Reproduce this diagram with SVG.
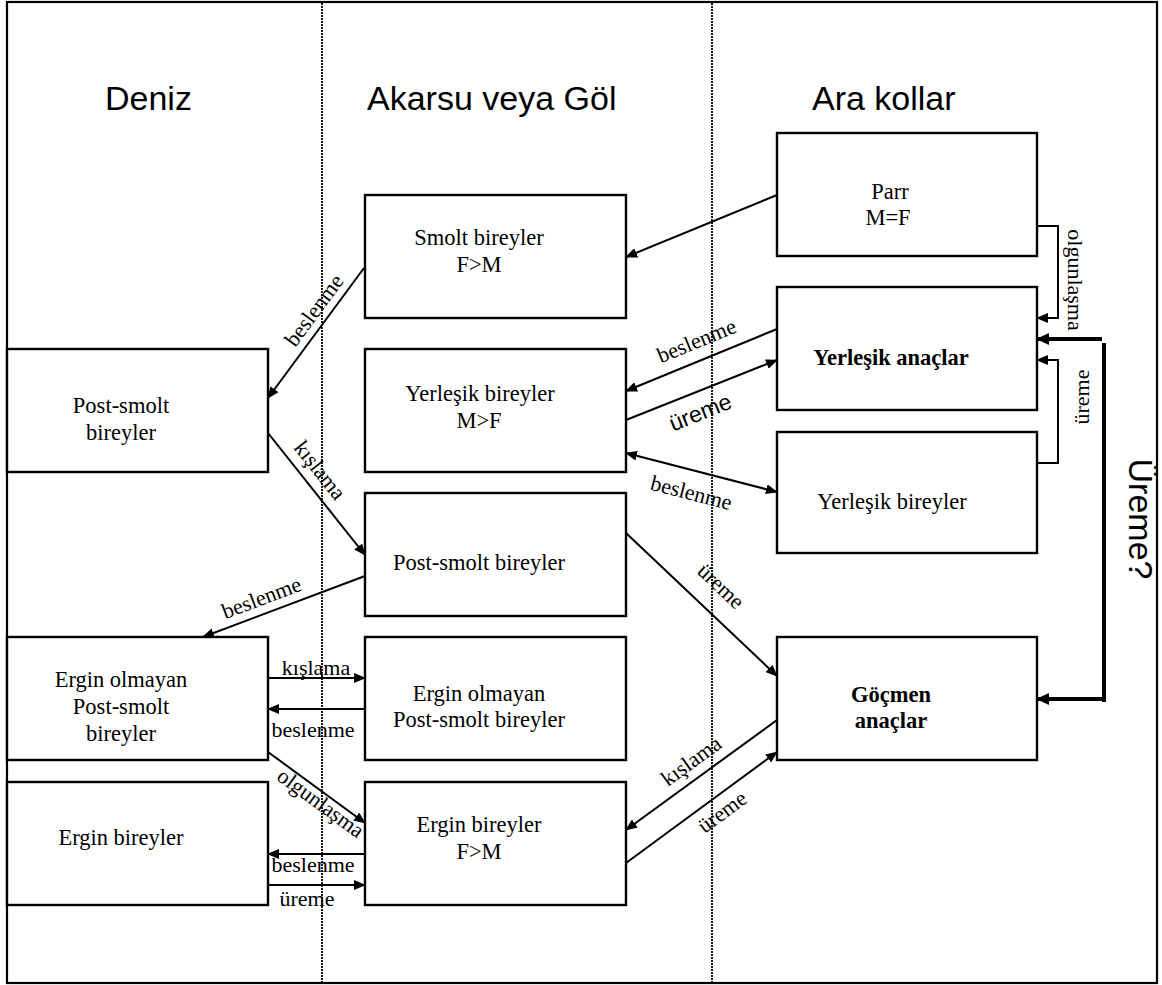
<svg xmlns="http://www.w3.org/2000/svg" width="1162" height="985" viewBox="0 0 1162 985">
<defs>
<style>
.box{fill:#fff;stroke:#000;stroke-width:2.4}
.nt{font-family:"Liberation Serif","Times New Roman",serif;font-size:22.5px;fill:#000;text-anchor:middle}
.bt{font-family:"Liberation Serif","Times New Roman",serif;font-size:22.5px;font-weight:bold;fill:#000;text-anchor:middle}
.hd{font-family:"Liberation Sans",Arial,sans-serif;font-size:34px;fill:#000}
.lb{font-family:"Liberation Serif","Times New Roman",serif;font-size:22px;fill:#000;text-anchor:middle}
.lbs{font-family:"Liberation Sans",Arial,sans-serif;font-size:23px;fill:#000;text-anchor:middle}
.cn{fill:none;stroke:#000;stroke-width:2}
.thick{fill:none;stroke:#000;stroke-width:4}
.dot{stroke:#000;stroke-width:1.8;stroke-dasharray:2,1}
</style>
<marker id="ah" viewBox="0 0 12 10" markerWidth="12" markerHeight="10" refX="11" refY="5" orient="auto-start-reverse" markerUnits="userSpaceOnUse">
<path d="M0,0 L12,5 L0,10 z" fill="#000"/>
</marker>
<marker id="ahb" viewBox="0 0 13 12" markerWidth="13" markerHeight="12" refX="12" refY="6" orient="auto" markerUnits="userSpaceOnUse">
<path d="M0,0 L13,6 L0,12 z" fill="#000"/>
</marker>
</defs>
<rect x="0" y="0" width="1162" height="985" fill="#fff"/>
<rect x="7" y="2" width="1150" height="981" fill="none" stroke="#000" stroke-width="2.2"/>
<line class="dot" x1="322" y1="3" x2="322" y2="982"/>
<line class="dot" x1="712" y1="3" x2="712" y2="982"/>

<g id="headers">
<text class="hd" x="105" y="110">Deniz</text>
<text class="hd" x="367" y="110">Akarsu veya Göl</text>
<text class="hd" x="812" y="110">Ara kollar</text>
<text class="hd" transform="translate(1129,519) rotate(90)" text-anchor="middle">Üreme?</text>
</g>

<g id="connectors">
<path class="cn" d="M777,195 L626,257" marker-end="url(#ah)"/>
<path class="cn" d="M364,268 L268,398" marker-end="url(#ah)"/>
<path class="cn" d="M268,433 L365,555" marker-end="url(#ah)"/>
<path class="cn" d="M365,576 L203,637" marker-end="url(#ah)"/>
<path class="cn" d="M777,329 L626,391" marker-end="url(#ah)"/>
<path class="cn" d="M626,420 L777,360" marker-end="url(#ah)"/>
<path class="cn" d="M626,453 L777,492" marker-start="url(#ah)" marker-end="url(#ah)"/>
<path class="cn" d="M626,533 L777,676" marker-end="url(#ah)"/>
<path class="cn" d="M777,720 L626,830" marker-end="url(#ah)"/>
<path class="cn" d="M626,863 L777,752" marker-end="url(#ah)"/>
<path class="cn" d="M268,678 L365,678" marker-end="url(#ah)"/>
<path class="cn" d="M365,709 L268,709" marker-end="url(#ah)"/>
<path class="cn" d="M268,752 L365,823" marker-end="url(#ah)"/>
<path class="cn" d="M365,854 L268,854" marker-end="url(#ah)"/>
<path class="cn" d="M268,885 L365,885" marker-end="url(#ah)"/>
<path class="cn" d="M1037,226 H1058 V318 H1037" marker-end="url(#ah)"/>
<path class="cn" d="M1037,463 H1058 V360 H1037" marker-end="url(#ah)"/>
<path class="thick" d="M1102,339 H1037" marker-end="url(#ahb)"/>
<path class="thick" d="M1104,343 V702"/>
<path class="thick" d="M1104,699 H1037" marker-end="url(#ahb)"/>

<text class="lb" transform="translate(315,311) rotate(-53.6)" y="6">beslenme</text>
<text class="lb" transform="translate(319,471) rotate(51.5)" y="6">kışlama</text>
<text class="lb" transform="translate(262,599) rotate(-20.6)" y="6">beslenme</text>
<text class="lb" transform="translate(697,342) rotate(-22.3)" y="6">beslenme</text>
<text class="lbs" transform="translate(701,414) rotate(-21.7)" y="6">üreme</text>
<text class="lb" transform="translate(691,494) rotate(14.5)" y="6">beslenme</text>
<text class="lb" transform="translate(720,587) rotate(43.4)" y="6">üreme</text>
<text class="lb" transform="translate(692,762) rotate(-36)" y="6">kışlama</text>
<text class="lb" transform="translate(723,813) rotate(-36.3)" y="6">üreme</text>
<text class="lb" transform="translate(320,804) rotate(36.2)" y="6">olgunlaşma</text>
<text class="lb" x="316" y="675">kışlama</text>
<text class="lb" x="313" y="737">beslenme</text>
<text class="lb" x="313" y="872">beslenme</text>
<text class="lb" x="307" y="906">üreme</text>
<text class="lb" transform="translate(1068,280) rotate(90)">olgunlaşma</text>
<text class="lb" transform="translate(1089,397) rotate(-90)">üreme</text>
</g>

<g id="smolt">
<rect class="box" x="365" y="195" width="261" height="123"/>
<text class="nt" x="479" y="245">Smolt bireyler</text>
<text class="nt" x="479" y="272">F&gt;M</text>
</g>
<g id="parr">
<rect class="box" x="777" y="133" width="260" height="123"/>
<text class="nt" x="890" y="199">Parr</text>
<text class="nt" x="888" y="225">M=F</text>
</g>
<g id="yerlesik-anaclar">
<rect class="box" x="777" y="287" width="260" height="123"/>
<text class="bt" x="891" y="365">Yerleşik anaçlar</text>
</g>
<g id="yerlesik-bireyler-ara">
<rect class="box" x="777" y="432" width="260" height="121"/>
<text class="nt" x="892" y="509">Yerleşik bireyler</text>
</g>
<g id="gocmen-anaclar">
<rect class="box" x="777" y="637" width="260" height="123"/>
<text class="bt" x="891" y="702">Göçmen</text>
<text class="bt" x="891" y="728">anaçlar</text>
</g>
<g id="post-smolt-deniz">
<rect class="box" x="7" y="349" width="261" height="123"/>
<text class="nt" x="121" y="413">Post-smolt</text>
<text class="nt" x="121" y="440">bireyler</text>
</g>
<g id="yerlesik-bireyler">
<rect class="box" x="365" y="349" width="261" height="123"/>
<text class="nt" x="480" y="401">Yerleşik bireyler</text>
<text class="nt" x="479" y="428">M&gt;F</text>
</g>
<g id="post-smolt-akarsu">
<rect class="box" x="365" y="493" width="261" height="123"/>
<text class="nt" x="479" y="570">Post-smolt bireyler</text>
</g>
<g id="ergin-olmayan-deniz">
<rect class="box" x="7" y="637" width="261" height="123"/>
<text class="nt" x="121" y="687">Ergin olmayan</text>
<text class="nt" x="121" y="714">Post-smolt</text>
<text class="nt" x="121" y="741">bireyler</text>
</g>
<g id="ergin-olmayan-akarsu">
<rect class="box" x="365" y="637" width="261" height="123"/>
<text class="nt" x="479" y="701">Ergin olmayan</text>
<text class="nt" x="479" y="727">Post-smolt bireyler</text>
</g>
<g id="ergin-deniz">
<rect class="box" x="7" y="782" width="261" height="123"/>
<text class="nt" x="121" y="845">Ergin bireyler</text>
</g>
<g id="ergin-akarsu">
<rect class="box" x="365" y="782" width="261" height="123"/>
<text class="nt" x="479" y="832">Ergin bireyler</text>
<text class="nt" x="479" y="859">F&gt;M</text>
</g>
</svg>
